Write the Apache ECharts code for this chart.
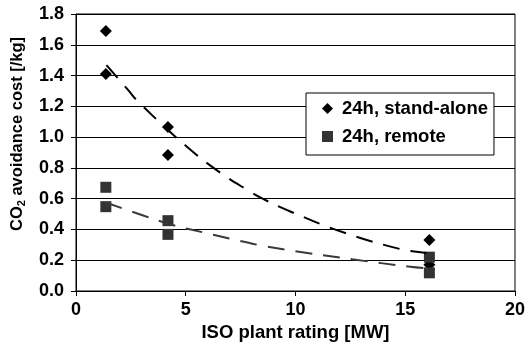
<!DOCTYPE html>
<html>
<head>
<meta charset="utf-8">
<script src="https://cdn.jsdelivr.net/npm/echarts@6/dist/echarts.min.js"></script>
<style>html,body{margin:0;padding:0;background:#fff}#c{width:528px;height:354px}</style>
</head>
<body>
<div id="c"></div>
<script>
// Scatter data (x = ISO plant rating [MW], y = CO2 avoidance cost)
var standX = [1.36, 1.36, 4.19, 4.19, 16.1, 16.1];
var standY = [1.69, 1.41, 1.066, 0.884, 0.331, 0.17];
var remoteX = [1.36, 1.36, 4.19, 4.19, 16.1, 16.1];
var remoteY = [0.674, 0.548, 0.457, 0.368, 0.22, 0.118];
// Trend lines
var standTrendX = [1.39, 2.35, 2.9, 5.08, 6.61, 7.82, 8.5, 9.79, 12.2, 14.85, 15.97];
var standTrendY = [1.468, 1.31, 1.22, 0.934, 0.765, 0.655, 0.60, 0.515, 0.38, 0.27, 0.247];
var remoteTrendX = [1.36, 3.13, 4.41, 5.85, 7.14, 8.5, 9.86, 12.58, 15.23, 16.1];
var remoteTrendY = [0.575, 0.487, 0.429, 0.379, 0.336, 0.294, 0.262, 0.206, 0.158, 0.146];
var seriesNames = ['24h, stand-alone', '24h, remote'];
var xTicks = [0, 5, 10, 15, 20];
var yTicks = [0, 0.2, 0.4, 0.6, 0.8, 1.0, 1.2, 1.4, 1.6, 1.8];

function pairs(xs, ys) { return xs.map(function (x, i) { return [x, ys[i]]; }); }

var FONT = 'Liberation Sans, Arial, sans-serif';
var chart = echarts.init(document.getElementById('c'));
chart.setOption({
  animation: false,
  backgroundColor: '#fff',
  grid: { left: 76, right: 12, top: 14, bottom: 63, show: true, borderColor: '#000', borderWidth: 1, backgroundColor: 'transparent' },
  xAxis: {
    type: 'value', min: xTicks[0], max: xTicks[xTicks.length - 1], interval: 5,
    name: 'ISO plant rating [MW]', nameLocation: 'middle', nameGap: 30,
    nameTextStyle: { fontFamily: FONT, fontWeight: 'bold', fontSize: 18.5, color: '#000' },
    axisLine: { show: true, lineStyle: { color: '#000', width: 1 } },
    axisTick: { show: true, length: 5, lineStyle: { color: '#000' } },
    axisLabel: { margin: 10, fontFamily: FONT, fontWeight: 'bold', fontSize: 18, color: '#000' },
    splitLine: { show: false }
  },
  yAxis: {
    type: 'value', min: yTicks[0], max: yTicks[yTicks.length - 1], interval: 0.2,
    axisLine: { show: true, lineStyle: { color: '#000', width: 1 } },
    axisTick: { show: true, length: 5, lineStyle: { color: '#000' } },
    axisLabel: { margin: 12, fontFamily: FONT, fontWeight: 'bold', fontSize: 18, color: '#000',
      formatter: function (v) { return v.toFixed(1); } },
    splitLine: { show: true, lineStyle: { color: '#000', width: 1 } }
  },
  legend: {
    data: [{ name: seriesNames[0], icon: 'diamond' }, { name: seriesNames[1], icon: 'rect' }],
    orient: 'vertical', left: 306, top: 93,
    padding: [6, 6, 9, 16], itemGap: 9, itemWidth: 11, itemHeight: 11,
    backgroundColor: '#fff', borderColor: '#000', borderWidth: 1, borderRadius: 0,
    textStyle: { fontFamily: FONT, fontWeight: 'bold', fontSize: 18.5, color: '#000', padding: [0, 0, 0, 4] }
  },
  graphic: [{
    type: 'text', x: 17, y: 134, rotation: Math.PI / 2,
    style: {
      text: '{a|CO}{s|2}{a| avoidance cost [/kg]}',
      align: 'center', verticalAlign: 'middle',
      rich: {
        a: { fontFamily: FONT, fontWeight: 'bold', fontSize: 16.5, fill: '#000', lineHeight: 20 },
        s: { fontFamily: FONT, fontWeight: 'bold', fontSize: 11, fill: '#000', lineHeight: 20, verticalAlign: 'bottom', padding: [8, 0, 0, 0] }
      }
    }
  }],
  series: [
    { name: seriesNames[0], type: 'scatter', symbol: 'diamond', symbolSize: 12,
      itemStyle: { color: '#000', opacity: 1 }, data: pairs(standX, standY), z: 3 },
    { name: seriesNames[1], type: 'scatter', symbol: 'rect', symbolSize: 11,
      itemStyle: { color: '#333', opacity: 1 }, data: pairs(remoteX, remoteY), z: 4 },
    { name: 'standTrend', type: 'line', smooth: 0.4, showSymbol: false, silent: true,
      lineStyle: { color: '#000', width: 2, type: [17, 11] }, data: pairs(standTrendX, standTrendY), z: 5 },
    { name: 'remoteTrend', type: 'line', smooth: 0.4, showSymbol: false, silent: true,
      lineStyle: { color: '#3a3a3a', width: 2, type: [17, 11] }, data: pairs(remoteTrendX, remoteTrendY), z: 5 }
  ]
});
</script>
</body>
</html>
